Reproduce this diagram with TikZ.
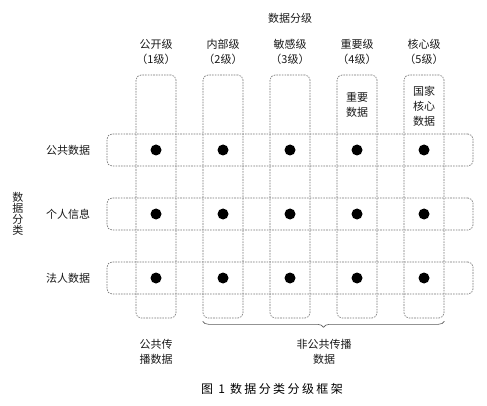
\documentclass[tikz,border=0pt]{standalone}
\usepackage{fontspec}
\setmainfont{Noto Sans CJK SC}
\usetikzlibrary{decorations.pathreplacing}
\tikzset{
  khung/.style={draw=gray!90!black, dash pattern=on 1.6pt off 1.1pt, line width=0.65pt, rounded corners=5pt, inner sep=0pt},
  nhan/.style={align=center, inner sep=0pt, text=black!90, font=\fontsize{11}{15}\selectfont},
  cham/.style={circle, fill=black, minimum size=11pt, inner sep=0pt}
}
\begin{document}
\begin{tikzpicture}[x=1pt, y=-1pt]
    \useasboundingbox (0,0) rectangle (487,406);

    % 1. Tiêu đề phân cấp
    \node[nhan] (phancap) at (290,18) {数据分级};

    % 2. Các cột dọc (cấp độ)
    \foreach \i/\x/\ten in {1/156/公开级\\（1级）, 2/223/内部级\\（2级）, 3/290/敏感级\\（3级）, 4/357/重要级\\（4级）, 5/424/核心级\\（5级）} {
        \node[nhan] (cap\i) at (\x,51.5) {\ten};
        \node[khung, minimum width=40pt, minimum height=243pt] (cot\i) at (\x,196.5) {};
    }
    \node[nhan] (quantrong) at (357,105) {重要\\数据};
    \node[nhan] (cotloi) at (424,106) {国家\\核心\\数据};

    % 3. Các hàng ngang (phân loại)
    \foreach \j/\y/\ten in {1/150/公共数据, 2/214/个人信息, 3/278/法人数据} {
        \node[nhan] (loai\j) at (68,\y) {\ten};
        \node[khung, minimum width=366pt, minimum height=32pt] (hang\j) at (290,\y) {};
    }
    \node[nhan, font=\fontsize{11}{10.8}\selectfont] (phanloai) at (18,214) {数\\据\\分\\类};

    % 4. Các chấm ở giao điểm
    \foreach \i in {1,...,5}
        \foreach \j in {1,2,3}
            \node[cham] (cham\i\j) at (cot\i |- hang\j) {};

    % 5. Ngoặc nhọn và chú thích dưới
    \draw[gray!70!black, line width=0.6pt, decorate, decoration={brace, mirror, amplitude=6pt}]
        ([yshift=-3pt]cot2.south west) -- ([yshift=-3pt]cot5.south east)
        coordinate[midway] (giua);
    \node[nhan] (congkhai) at (156,352) {公共传\\播数据};
    \node[nhan] (khongcongkhai) at (324,352) {非公共传播\\数据};

    % 6. Chú thích hình
    \node[inner sep=0pt, font=\fontsize{12}{14}\selectfont\addfontfeatures{LetterSpace=20}] (tenhinh) at (272,389) {图 1 数据分类分级框架};
\end{tikzpicture}
\end{document}
